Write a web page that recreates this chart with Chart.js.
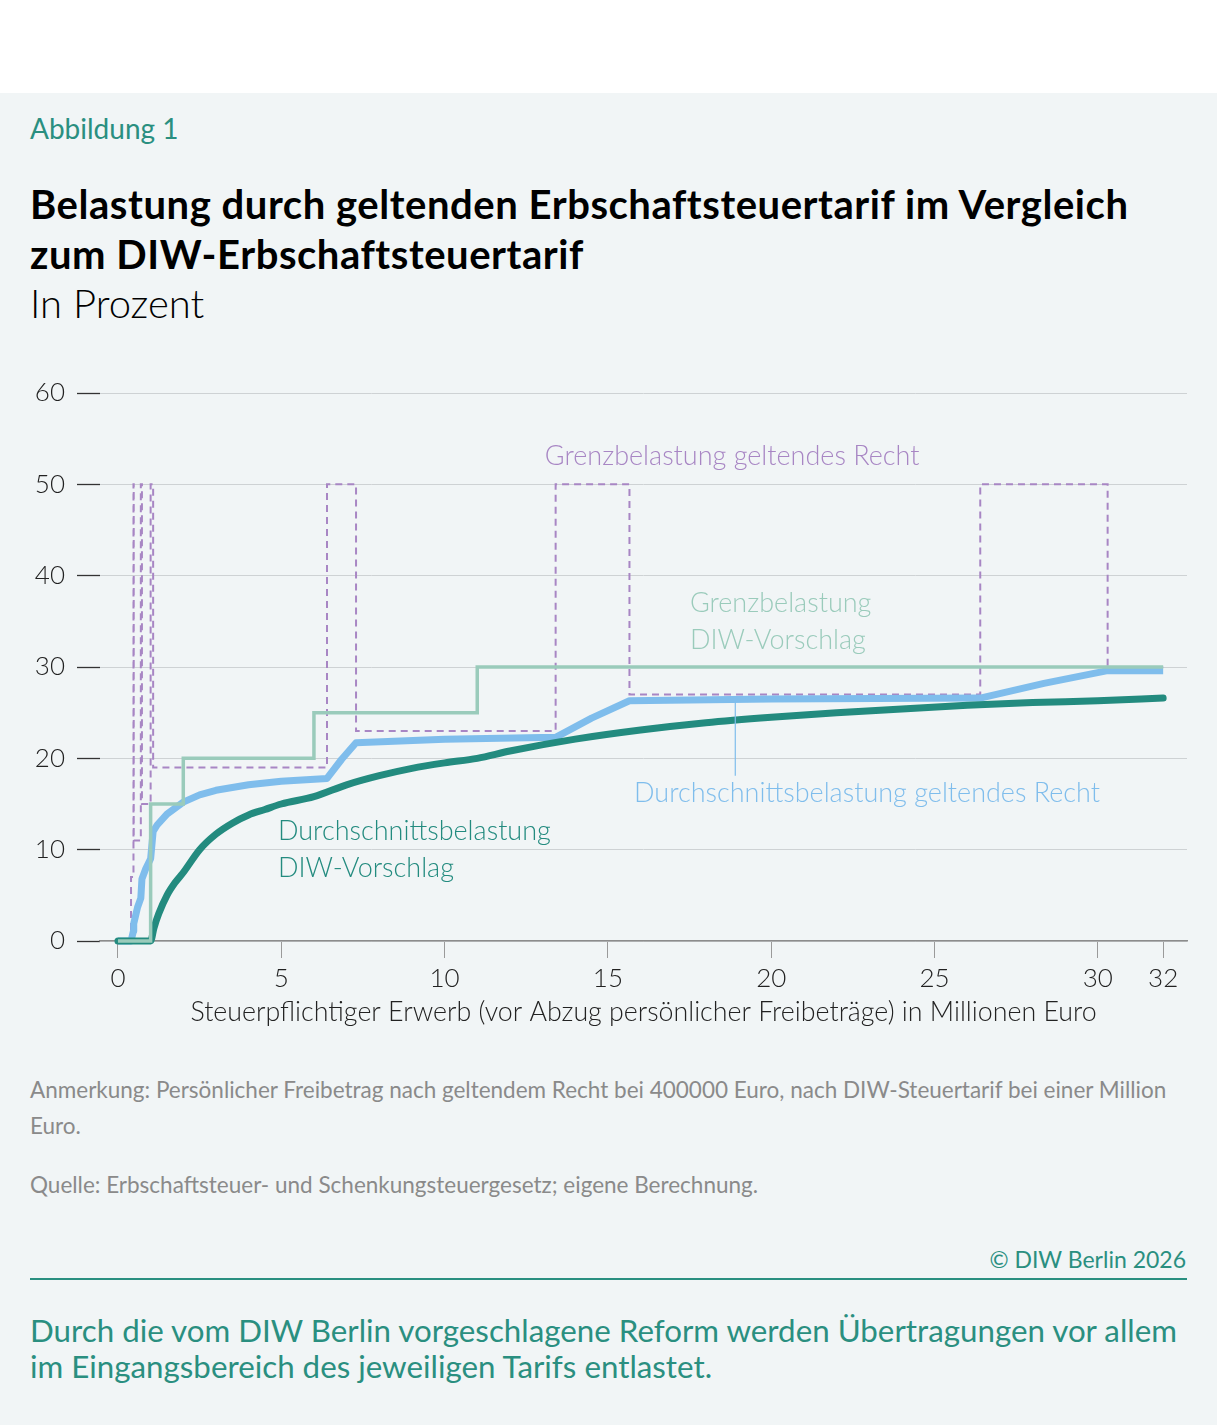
<!DOCTYPE html>
<html><head><meta charset="utf-8">
<script src="https://cdn.jsdelivr.net/npm/chart.js@4.4.0/dist/chart.umd.min.js"></script>
<style>
html,body{margin:0;padding:0;}
body{width:1217px;height:1425px;background:#f1f5f6;position:relative;font-family:Lato,"Open Sans",sans-serif;overflow:hidden;color:#000}
#topband{position:absolute;left:0;top:0;width:1217px;height:93px;background:#fff}
.t{position:absolute;left:30px;white-space:nowrap}
#abb{top:113px;font-size:28px;line-height:30px;color:#2a8f80}
#title{top:179px;font-size:40px;line-height:50px;font-weight:700;letter-spacing:0.55px}
#sub{top:283px;font-size:40px;line-height:40px;font-weight:300}
#note{top:1072px;font-size:22.5px;line-height:36px;color:#8a8a8a}
#src{top:1167px;font-size:22.5px;line-height:36px;color:#8a8a8a}
#copy{position:absolute;right:31px;top:1244px;font-size:23px;line-height:30px;color:#2a8f80}
#rule{position:absolute;left:30px;top:1278px;width:1157px;height:2px;background:#2a8f80}
#concl{top:1312px;font-size:31.3px;line-height:36px;color:#2a8f80}
#wrap{position:absolute;left:0;top:360px;width:1217px;height:690px}
</style></head><body>
<div id="topband"></div>
<div class="t" id="abb">Abbildung 1</div>
<div class="t" id="title">Belastung durch geltenden Erbschaftsteuertarif im Vergleich<br>zum DIW-Erbschaftsteuertarif</div>
<div class="t" id="sub">In Prozent</div>
<div class="t" id="note">Anmerkung: Persönlicher Freibetrag nach geltendem Recht bei 400000 Euro, nach DIW-Steuertarif bei einer Million<br>Euro.</div>
<div class="t" id="src">Quelle: Erbschaftsteuer- und Schenkungsteuergesetz; eigene Berechnung.</div>
<div id="copy">© DIW Berlin 2026</div>
<div id="rule"></div>
<div class="t" id="concl">Durch die vom DIW Berlin vorgeschlagene Reform werden Übertragungen vor allem<br>im Eingangsbereich des jeweiligen Tarifs entlastet.</div>
<div id="wrap"><canvas id="c" width="1217" height="690"></canvas></div>
<script>
// Tick labels
const xTickValues = [0, 5, 10, 15, 20, 25, 30, 32];
const yTickValues = [0, 10, 20, 30, 40, 50, 60];

// Grenzbelastung geltendes Recht (marginal rate, step)
const grenzGeltendX = [0, 0.4, 0.475, 0.483, 0.7, 0.734, 1.0, 1.077, 6.4, 7.289, 13.4, 15.66, 26.4, 30.3, 32];
const grenzGeltendY = [0, 7, 50, 11, 50, 15, 50, 19, 50, 23, 50, 27, 50, 30, 30];

// Grenzbelastung DIW-Vorschlag (marginal rate, step)
const grenzDiwX = [0, 1, 2, 6, 11, 32];
const grenzDiwY = [0, 15, 20, 25, 30, 30];

// Durchschnittsbelastung geltendes Recht
const durchGeltendX = [0, 0.4, 0.475, 0.483, 0.6, 0.7, 0.734, 0.85, 1.0, 1.077, 1.2, 1.5, 2, 2.5, 3, 4, 5, 6.4, 6.85, 7.289, 10, 13.4, 14.5, 15.66, 20, 26.4, 28.35, 30.3, 32];
const durchGeltendY = [0, 0, 1.1, 1.9, 3.7, 4.7, 6.8, 7.9, 9.0, 12.0, 12.7, 13.9, 15.2, 16.0, 16.5, 17.1, 17.5, 17.8, 19.9, 21.7, 22.1, 22.3, 24.4, 26.3, 26.5, 26.6, 28.2, 29.6, 29.6];

// Durchschnittsbelastung DIW-Vorschlag
const durchDiwX = [0, 1.0, 1.1, 1.25, 1.5, 1.75, 2, 2.5, 3, 3.5, 4, 4.5, 5, 6, 7, 8, 9, 10, 11, 12, 14, 16, 18, 20, 22, 24, 26, 28, 30, 32];
const durchDiwY = [0, 0, 1.4, 3.0, 5.0, 6.4, 7.5, 10.0, 11.7, 12.9, 13.8, 14.4, 15.0, 15.8, 17.1, 18.1, 18.9, 19.5, 20.0, 20.8, 22.1, 23.1, 23.9, 24.5, 25.0, 25.4, 25.8, 26.1, 26.3, 26.6];

const pts = (xs, ys) => xs.map((x, i) => ({x: x, y: ys[i]}));

const C_PURPLE = '#a886c4', C_GREEN = '#9acbbb', C_BLUE = '#7fbdec', C_TEAL = '#238b7f';

const labels = [
  {lines: ['Grenzbelastung geltendes Recht'], x: 13.07, y: 53.1, color: C_PURPLE},
  {lines: ['Grenzbelastung', 'DIW-Vorschlag'], x: 17.51, y: 37.0, color: C_GREEN},
  {lines: ['Durchschnittsbelastung geltendes Recht'], x: 15.8, y: 16.2, color: C_BLUE},
  {lines: ['Durchschnittsbelastung', 'DIW-Vorschlag'], x: 4.9, y: 12.0, color: C_TEAL}
];

const labelPlugin = {
  id: 'labels',
  afterDatasetsDraw(chart) {
    const {ctx, scales: {x, y}} = chart;
    ctx.save();
    // leader line
    ctx.strokeStyle = C_BLUE; ctx.lineWidth = 1.2;
    ctx.beginPath();
    ctx.moveTo(x.getPixelForValue(18.9), y.getPixelForValue(26.2));
    ctx.lineTo(x.getPixelForValue(18.9), y.getPixelForValue(18.1));
    ctx.stroke();
    ctx.font = '300 27px Lato, "Open Sans", sans-serif';
    ctx.textBaseline = 'middle';
    ctx.textAlign = 'left';
    labels.forEach(l => {
      ctx.fillStyle = l.color;
      l.lines.forEach((s, i) => {
        ctx.fillText(s, x.getPixelForValue(l.x), y.getPixelForValue(l.y) + i * 37);
      });
    });
    ctx.restore();
  }
};

new Chart(document.getElementById('c'), {
  type: 'line',
  data: {
    datasets: [
      {data: pts(grenzDiwX, grenzDiwY), borderColor: C_GREEN, borderWidth: 3.5, stepped: 'before', pointRadius: 0, clip: false},
      {data: pts(durchDiwX, durchDiwY), borderColor: C_TEAL, borderWidth: 7, cubicInterpolationMode: 'monotone', borderCapStyle: 'round', borderJoinStyle: 'round', pointRadius: 0, clip: false},
      {data: pts(durchGeltendX, durchGeltendY), borderColor: C_BLUE, borderWidth: 7, tension: 0, borderJoinStyle: 'round', pointRadius: 0, clip: false},
      {data: pts(grenzGeltendX, grenzGeltendY), borderColor: C_PURPLE, borderWidth: 2, borderDash: [7, 5], stepped: 'before', pointRadius: 0, clip: false}
    ]
  },
  options: {
    responsive: false,
    animation: false,
    events: [],
    layout: {padding: {top: 33, right: 30, left: 0, bottom: 0}},
    plugins: {legend: {display: false}, tooltip: {enabled: false}},
    scales: {
      x: {
        type: 'linear', min: -0.55, max: 32.73,
        afterBuildTicks: s => { s.ticks = xTickValues.map(v => ({value: v})); },
        afterFit: s => { s.height = 109; },
        grid: {drawOnChartArea: false, drawTicks: true, tickLength: 17, tickColor: '#9a9a9a', tickWidth: 1},
        border: {display: true, color: '#8c8c8c', width: 1.5},
        ticks: {padding: 5, color: '#222', font: {family: 'Lato', size: 26, weight: 300}, autoSkip: false, maxRotation: 0},
        title: {display: true, text: 'Steuerpflichtiger Erwerb (vor Abzug persönlicher Freibeträge) in Millionen Euro', color: '#222', font: {family: 'Lato', size: 26.8, weight: 300}, padding: {top: 0, bottom: 22}}
      },
      y: {
        type: 'linear', min: 0, max: 60,
        afterBuildTicks: s => { s.ticks = yTickValues.map(v => ({value: v})); },
        afterFit: s => { s.width = 100; },
        grid: {color: '#ced2d4', lineWidth: 1, drawTicks: true, tickLength: 23, tickColor: '#333', tickWidth: 1.3},
        border: {display: false},
        ticks: {padding: 12, color: '#222', font: {family: 'Lato', size: 26, weight: 300}}
      }
    }
  },
  plugins: [labelPlugin]
});
</script>
</body></html>
